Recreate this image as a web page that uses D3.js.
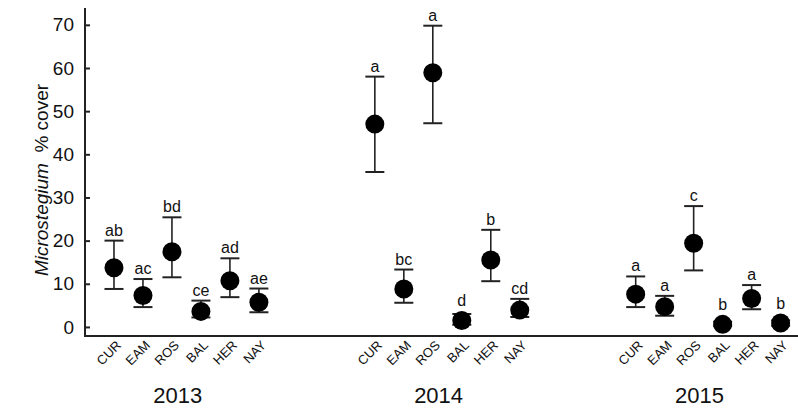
<!DOCTYPE html>
<html>
<head>
<meta charset="utf-8">
<script src="https://cdn.jsdelivr.net/npm/d3@7"></script>
<style>
  body { margin: 0; background: #fff; }
  svg { font-family: "Liberation Sans", Arial, sans-serif; }
</style>
</head>
<body>
<div class="chart"></div>
<script>
var width = 798, height = 408;

var years = ["2013", "2014", "2015"];
var sites = ["CUR", "EAM", "ROS", "BAL", "HER", "NAY"];

// mean, upper and lower error bounds per year, in site order
var means2013 = [13.7, 7.3, 17.4, 3.6, 10.7, 5.7];
var upper2013 = [20.0, 11.1, 25.4, 6.1, 15.9, 8.9];
var lower2013 = [8.8, 4.6, 11.5, 2.2, 6.9, 3.4];
var letters2013 = ["ab", "ac", "bd", "ce", "ad", "ae"];

var means2014 = [47.0, 8.8, 58.9, 1.5, 15.5, 3.9];
var upper2014 = [58.0, 13.3, 69.8, 3.0, 22.5, 6.5];
var lower2014 = [35.9, 5.6, 47.2, 0.5, 10.6, 2.3];
var letters2014 = ["a", "bc", "a", "d", "b", "cd"];

var means2015 = [7.6, 4.7, 19.4, 0.6, 6.6, 0.9];
var upper2015 = [11.7, 7.2, 28.0, 1.2, 9.7, 1.5];
var lower2015 = [4.6, 2.6, 13.1, 0.2, 4.1, 0.3];
var letters2015 = ["a", "a", "c", "b", "a", "b"];

var yTicks = [0, 10, 20, 30, 40, 50, 60, 70];

var means = [means2013, means2014, means2015],
    uppers = [upper2013, upper2014, upper2015],
    lowers = [lower2013, lower2014, lower2015],
    letters = [letters2013, letters2014, letters2015];

var data = [];
years.forEach(function(yr, g) {
  sites.forEach(function(s, i) {
    data.push({year: yr, site: s, slot: g * 9 + i,
               mean: means[g][i], hi: uppers[g][i], lo: lowers[g][i], letter: letters[g][i]});
  });
});

var svg = d3.select(".chart")
        .append("svg")
        .attr("width", width)
        .attr("height", height);

var plotLeft = 85, plotTop = 8, plotBottom = 336, r = 9.5;

var x = d3.scaleLinear().domain([-1, 23.6]).range([plotLeft, width]);
var y = d3.scaleLinear().domain([-2.1, 73.9]).range([plotBottom, plotTop]);

var ink = "#222";

// y axis
var yAxis = svg.append("g")
    .attr("transform", "translate(" + plotLeft + ",0)")
    .call(d3.axisLeft(y).tickValues(yTicks).tickSize(-5).tickPadding(11));
yAxis.select(".domain").remove();
yAxis.selectAll(".tick line").attr("stroke", ink).attr("stroke-width", 2);
yAxis.selectAll(".tick text").attr("fill", "#111").style("font-size", "19px");

svg.append("line")
    .attr("x1", plotLeft).attr("x2", plotLeft)
    .attr("y1", plotTop).attr("y2", plotBottom)
    .attr("stroke", ink).attr("stroke-width", 2);
svg.append("line")
    .attr("x1", plotLeft - 1).attr("x2", width)
    .attr("y1", plotBottom).attr("y2", plotBottom)
    .attr("stroke", ink).attr("stroke-width", 2);

// y label
var ylab = svg.append("text")
    .attr("transform", "translate(48,180) rotate(-90)")
    .attr("text-anchor", "middle")
    .attr("fill", "#111")
    .style("font-size", "19px");
ylab.append("tspan").style("font-style", "italic").text("Microstegium");
ylab.append("tspan").text("\u00a0\u00a0% cover");

// x tick labels
svg.selectAll(".site")
    .data(data)
    .enter().append("text")
    .attr("class", "site")
    .attr("text-anchor", "end")
    .attr("fill", "#111")
    .style("font-size", "13px")
    .attr("transform", function(d) { return "translate(" + (x(d.slot) + 8) + ",346) rotate(-45)"; })
    .text(function(d) { return d.site; });

// year labels
svg.selectAll(".year")
    .data(years)
    .enter().append("text")
    .attr("class", "year")
    .attr("text-anchor", "middle")
    .attr("fill", "#111")
    .style("font-size", "22px")
    .attr("x", function(d, g) { return x(g * 9 + 2.2); })
    .attr("y", 403)
    .text(function(d) { return d; });

// error bars
var node = svg.selectAll(".pt")
    .data(data)
    .enter().append("g")
    .attr("class", "pt")
    .attr("transform", function(d) { return "translate(" + x(d.slot) + ",0)"; });

node.append("line")
    .attr("y1", function(d) { return y(d.hi); })
    .attr("y2", function(d) { return y(d.lo); })
    .attr("stroke", ink).attr("stroke-width", 1.6);
node.append("line")
    .attr("x1", -r).attr("x2", r)
    .attr("y1", function(d) { return y(d.hi); })
    .attr("y2", function(d) { return y(d.hi); })
    .attr("stroke", ink).attr("stroke-width", 2);
node.append("line")
    .attr("x1", -r).attr("x2", r)
    .attr("y1", function(d) { return y(d.lo); })
    .attr("y2", function(d) { return y(d.lo); })
    .attr("stroke", ink).attr("stroke-width", 2);

node.append("circle")
    .attr("cy", function(d) { return y(d.mean); })
    .attr("r", r)
    .attr("fill", "#000");

node.append("text")
    .attr("text-anchor", "middle")
    .attr("y", function(d) { return Math.min(y(d.hi), y(d.mean) - r) - 5; })
    .attr("fill", "#111")
    .style("font-size", "16px")
    .text(function(d) { return d.letter; });
</script>
</body>
</html>
